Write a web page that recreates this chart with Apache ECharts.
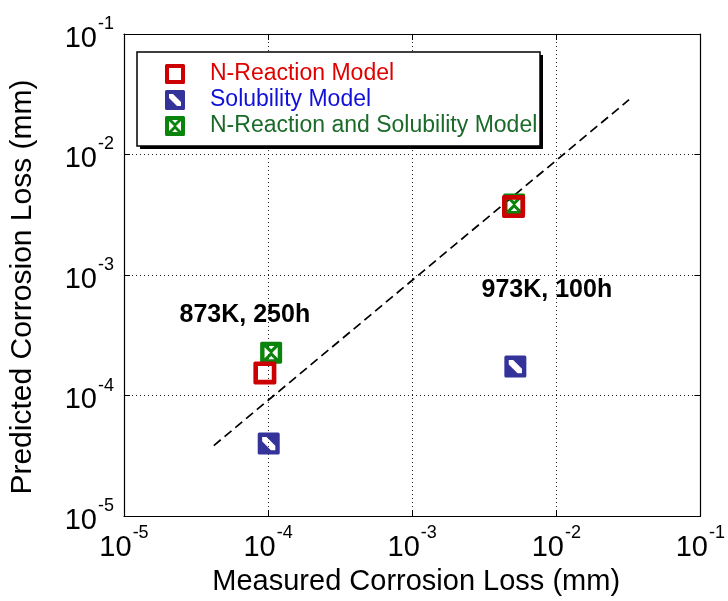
<!DOCTYPE html>
<html>
<head>
<meta charset="utf-8">
<script src="https://cdn.jsdelivr.net/npm/echarts@6/dist/echarts.min.js"></script>
<style>
html,body{margin:0;padding:0;background:#fff;}
#main{width:728px;height:601px;}
</style>
</head>
<body>
<div id="main"></div>
<script>
// ---- data ----
var seriesNames = ['N-Reaction Model', 'Solubility Model', 'N-Reaction and Solubility Model'];
var nReaction = [[9.5e-5, 1.54e-4], [5.05e-3, 3.7e-3]];
var solubility = [[1.01e-4, 4.0e-5], [5.2e-3, 1.74e-4]];
var combined = [[1.05e-4, 2.27e-4], [5.1e-3, 3.85e-3]];
var fitLine = [[4.2e-5, 3.85e-5], [3.2e-2, 2.85e-2]];
var annotations = [
  {text: '873K, 250h', pos: [6.9e-5, 4.65e-4]},
  {text: '973K, 100h', pos: [8.6e-3, 7.5e-4]}
];
var axisMin = 1e-5, axisMax = 1e-1;
var xTitle = 'Measured Corrosion Loss (mm)';
var yTitle = 'Predicted Corrosion Loss (mm)';

// ---- styles ----
var FONT = 'Liberation Sans, Arial, sans-serif';
var sqOuter = 'M1.5 0 H18.5 Q20 0 20 1.5 V18.5 Q20 20 18.5 20 H1.5 Q0 20 0 18.5 V1.5 Q0 0 1.5 0 Z ';
var symRed = 'path://' + sqOuter + 'M4 4 L4 16 L16 16 L16 4 Z';
var symBlue = 'path://' + sqOuter + 'M4 4 L4 8 L12 16 L16 16 L16 12 L8 4 Z';
var symGreen = 'path://' + sqOuter + 'M4 5 L4 15 L9 10 Z M16 5 L11 10 L16 15 Z M7 4 L10 7 L13 4 Z M7 16 L13 16 L10 13 Z';
var colRed = '#cc0000', colBlue = '#333399', colGreen = '#0a840a';

function expLabel(v) {
  var e = Math.round(Math.log(v) / Math.LN10);
  return '{b|10}{s|' + e + '}';
}
var labelRich = {
  b: {fontSize: 29, fontFamily: FONT, color: '#000', verticalAlign: 'bottom', lineHeight: 38},
  s: {fontSize: 18, fontFamily: FONT, color: '#000', verticalAlign: 'top', lineHeight: 38, padding: [0, 0, 0, 1]}
};

var chart = echarts.init(document.getElementById('main'), null, {renderer: 'canvas'});
var gridLine = {show: true, lineStyle: {color: '#222', type: [1, 3], width: 1}};
var axisLineBlack = {show: true, onZero: false, lineStyle: {color: '#000', width: 1.2}};
var tickIn = {show: true, inside: true, length: 6, lineStyle: {color: '#000'}};
var option = {
  backgroundColor: '#fff',
  animation: false,
  grid: {left: 123, top: 34, width: 584, height: 486, show: false},
  xAxis: [{
    type: 'log', logBase: 10, min: axisMin, max: axisMax,
    axisLine: axisLineBlack, axisTick: tickIn, splitLine: gridLine,
    axisLabel: {formatter: expLabel, rich: labelRich, margin: 8, color: '#000'},
    name: xTitle, nameLocation: 'middle', nameGap: 46,
    nameTextStyle: {fontSize: 29, fontFamily: FONT, color: '#000', padding: [0, 0, 0, 8]}
  }, {
    type: 'log', logBase: 10, min: axisMin, max: axisMax, position: 'top',
    axisLine: axisLineBlack, axisTick: tickIn,
    splitLine: {show: false}, axisLabel: {show: false}
  }],
  yAxis: [{
    type: 'log', logBase: 10, min: axisMin, max: axisMax,
    axisLine: axisLineBlack, axisTick: tickIn, splitLine: gridLine,
    axisLabel: {formatter: expLabel, rich: labelRich, margin: 10, color: '#000'},
    name: yTitle, nameLocation: 'middle', nameGap: 86, nameRotate: 90,
    nameTextStyle: {fontSize: 30, fontFamily: FONT, color: '#000', padding: [0, 24, 0, 0]}
  }, {
    type: 'log', logBase: 10, min: axisMin, max: axisMax, position: 'right',
    axisLine: axisLineBlack, axisTick: tickIn,
    splitLine: {show: false}, axisLabel: {show: false}
  }],
  graphic: [
    {type: 'rect', z: 20, silent: true, shape: {x: 140, y: 55, width: 403, height: 94}, style: {fill: '#000'}},
    {type: 'rect', z: 21, silent: true, shape: {x: 137, y: 52, width: 403, height: 94}, style: {fill: '#fff', stroke: '#000', lineWidth: 1.5}}
  ],
  legend: {
    orient: 'vertical', left: 165, top: 61, z: 30,
    padding: 0, itemGap: 0,
    itemWidth: 20, itemHeight: 20,
    textStyle: {fontSize: 23, fontFamily: FONT, lineHeight: 26, padding: [0, 0, 0, 20]},
    data: [
      {name: seriesNames[0], icon: symRed, itemStyle: {color: colRed}, textStyle: {color: '#e00000'}},
      {name: seriesNames[1], icon: symBlue, itemStyle: {color: colBlue}, textStyle: {color: '#1010d8'}},
      {name: seriesNames[2], icon: symGreen, itemStyle: {color: colGreen}, textStyle: {color: '#1a6a28'}}
    ]
  },
  series: [
    {
      name: 'fit', type: 'line', data: fitLine, symbol: 'none', z: 2,
      lineStyle: {color: '#000', width: 1.7, type: [9, 5]}, silent: true
    },
    {
      name: seriesNames[1], type: 'scatter', data: solubility, symbol: symBlue, symbolSize: 22, z: 3,
      itemStyle: {color: colBlue, opacity: 1}
    },
    {
      name: seriesNames[2], type: 'scatter', data: combined, symbol: symGreen, symbolSize: 22, z: 4,
      itemStyle: {color: colGreen, opacity: 1}
    },
    {
      name: seriesNames[0], type: 'scatter', data: nReaction, symbol: symRed, symbolSize: 23, z: 5,
      itemStyle: {color: colRed, opacity: 1}
    },
    {
      name: 'labels', type: 'scatter', symbolSize: 0, silent: true, z: 6,
      itemStyle: {opacity: 1},
      data: annotations.map(function (a) { return {value: a.pos, label: {formatter: a.text}}; }),
      label: {show: true, position: 'inside', fontSize: 25, fontWeight: 'bold', fontFamily: FONT, color: '#000', opacity: 1}
    }
  ]
};
chart.setOption(option);
</script>
</body>
</html>
